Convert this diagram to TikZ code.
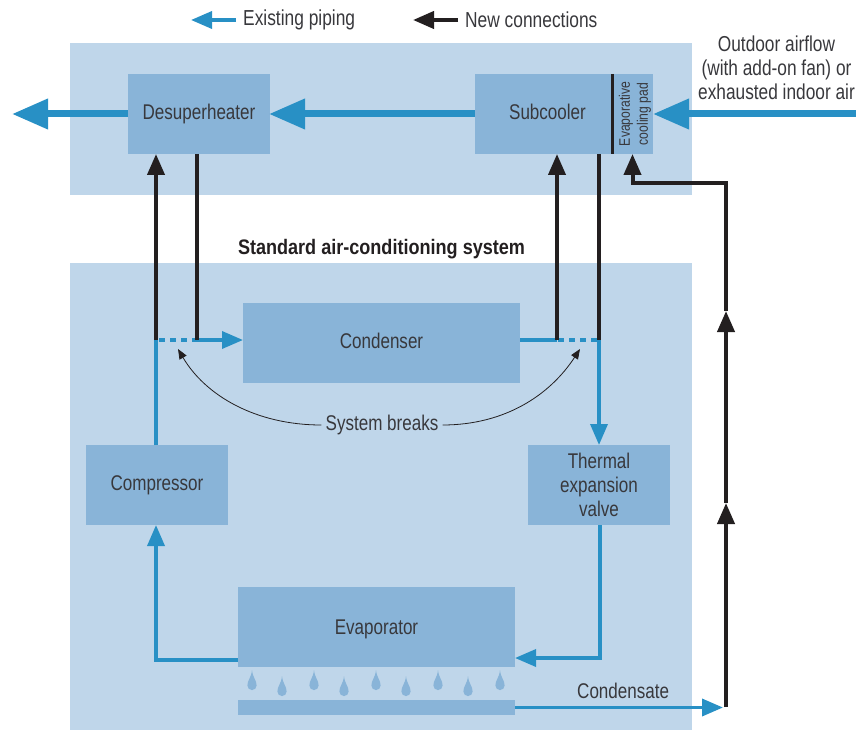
\documentclass[tikz,border=0pt]{standalone}
\usepackage{fontspec}
\setmainfont[FakeStretch=0.8, BoldFeatures={FakeStretch=0.86}]{Liberation Sans}
\usetikzlibrary{arrows.meta}
\definecolor{panelblue}{HTML}{BFD6EA}
\definecolor{boxblue}{HTML}{89B4D8}
\definecolor{pipeblue}{HTML}{2890C5}
\definecolor{pipeblack}{HTML}{231F20}
\definecolor{textgray}{HTML}{38383C}
\tikzset{
    panel/.style={fill=panelblue, minimum width=622pt, inner sep=0pt, outer sep=0pt},
    unit/.style={fill=boxblue, minimum width=142pt, minimum height=80pt, inner sep=0pt, outer sep=0pt, align=center, text=textgray, font=\fontsize{21.3}{24}\selectfont},
    oneline/.style={text height=15pt, text depth=4.4pt},
    wideunit/.style={unit, minimum width=277pt},
    caption/.style={inner sep=0pt, text=textgray, align=center, font=\fontsize{21.3}{24}\selectfont},
    airpipe/.style={draw=pipeblue, line width=7pt, -{Triangle[length=36pt,width=29pt]}},
    oldline/.style={draw=pipeblue, line width=3.5pt},
    oldpipe/.style={oldline, -{Triangle[length=21pt,width=17pt]}},
    brokenpipe/.style={oldline, dash pattern=on 5.5pt off 5.5pt},
    newline/.style={draw=pipeblack, line width=4pt},
    newpipe/.style={newline, -{Triangle[length=21pt,width=17pt]}},
    pointer/.style={draw=pipeblack, line width=0.8pt, -{Triangle[length=10pt,width=8pt]}}
}
\begin{document}
\begin{tikzpicture}[x=1pt, y=-1pt]
    \useasboundingbox (0,0) rectangle (856,730);
    \node[panel, minimum height=152pt] at (381,119) (toppanel) {};
    \node[panel, minimum height=467pt] at (381,496.5) (lowpanel) {};

    \node[unit, oneline] at (199,114) (desuperheater) {Desuperheater};
    \node[unit, oneline, minimum width=145pt] at (547.5,114) (subcooler) {Subcooler};
    \node[unit, rotate=90, minimum width=80pt, minimum height=41pt, font=\fontsize{15.2}{18}\selectfont] at (632.5,114) (pad) {Evaporative\rule{0pt}{16pt}\\cooling pad};
    \node[wideunit, oneline] at (381.5,343) (condenser) {Condenser};
    \node[unit, oneline] at (157,485) (compressor) {Compressor};
    \node[unit] at (599,485) (valve) {Thermal\\expansion\\valve};
    \node[wideunit, oneline, text depth=0.4pt] at (376.5,627) (evaporator) {Evaporator};
    \node[wideunit, minimum height=15pt] at (376.5,707.5) (pan) {};

    \foreach \x/\y [count=\i] in {252/0,282/6,314/0,344/6,376/0,406/6,438/0,468/6,500/0}
        \fill[boxblue] (\x,670+\y) .. controls (\x+0.8,678+\y) and (\x+4.6,680+\y) .. (\x+4.6,685.5+\y)
            arc[start angle=0, end angle=-180, radius=4.6pt]
            .. controls (\x-4.6,680+\y) and (\x-0.8,678+\y) .. (\x,670+\y);

    % legend
    \coordinate (oldkeyend) at (236,20);
    \coordinate (oldkeytip) at (191,20);
    \coordinate (newkeyend) at (458,20);
    \coordinate (newkeytip) at (413,20);
    \draw[oldpipe] (oldkeyend) -- (oldkeytip);
    \draw[newpipe] (newkeyend) -- (newkeytip);
    \node[caption, anchor=west, font=\fontsize{21.7}{24}\selectfont] at (243,19.5) (oldkey) {Existing piping};
    \node[caption, anchor=west, font=\fontsize{21.7}{24}\selectfont] at (465,19.5) (newkey) {New connections};

    % airflow
    \coordinate (airin) at (856,114);
    \coordinate (airout) at (12,114);
    \draw[airpipe] (airin) -- (pad.south);
    \draw[airpipe] (subcooler.west) -- ([xshift=-1pt]desuperheater.east);
    \draw[airpipe] (desuperheater.west) -- (airout);
    \draw[draw=pipeblack, line width=3pt] (pad.north east) -- (pad.north west);

    % breaks in the refrigerant line
    \coordinate (breakA) at (156,340);
    \coordinate (breakB) at (197,340);
    \coordinate (breakC) at (557,340);
    \coordinate (breakD) at (599,340);

    \draw[oldline] (compressor.north -| breakA) -- (breakA);
    \draw[brokenpipe, dash phase=-3pt] (breakA) -- (breakB);
    \draw[oldpipe] (breakB) -- (breakB -| condenser.west);
    \draw[oldline] (breakC -| condenser.east) -- (breakC);
    \draw[brokenpipe, dash phase=-1pt] (breakC) -- (breakD);
    \draw[oldpipe] (breakD) -- (breakD |- valve.north);

    \draw[newpipe] (breakA) -- (breakA |- desuperheater.south);
    \draw[newline] (breakB |- desuperheater.south) -- (breakB);
    \draw[newpipe] (breakC) -- (breakC |- subcooler.south);
    \draw[newline] (breakD |- subcooler.south) -- (breakD);

    % evaporator loop
    \coordinate (valveturn) at (600,658);
    \coordinate (compturn) at (156,660);
    \draw[oldpipe] (valveturn |- valve.south) -- (valveturn) -- (valveturn -| evaporator.east);
    \draw[oldpipe] (compturn -| evaporator.west) -- (compturn) -- (compturn |- compressor.south);

    % condensate line
    \coordinate (drain) at (726,707);
    \coordinate (riseA) at (726,503);
    \coordinate (riseB) at (726,311);
    \coordinate (riseC) at (726,183);
    \coordinate (riseD) at (632.5,183);
    \draw[oldpipe] (pan.east) -- (723,707.5);
    \draw[newpipe] (drain) -- (riseA);
    \draw[newpipe] (riseA) -- (riseB);
    \draw[newpipe] (riseB) -- (riseC) -- (riseD) -- (pad.west);

    \node[caption, font=\bfseries\fontsize{21}{24}\selectfont, text=pipeblack] at (381.5,249) (system) {Standard air-conditioning system};
    \node[caption, anchor=west] at (577,691) (condensate) {Condensate};
    \node[caption, font=\fontsize{21.6}{24}\selectfont] at (776.5,68) (outdoor) {Outdoor airflow\\(with add-on fan) or\\exhausted indoor air};
    \node[caption, inner xsep=4pt] at (382,425) (breaks) {System breaks};

    \draw[pointer] (breaks.west) .. controls (255,425) and (205,395) .. (178,349);
    \draw[pointer] (breaks.east) .. controls (505,425) and (550,395) .. (580,349);
\end{tikzpicture}
\end{document}
